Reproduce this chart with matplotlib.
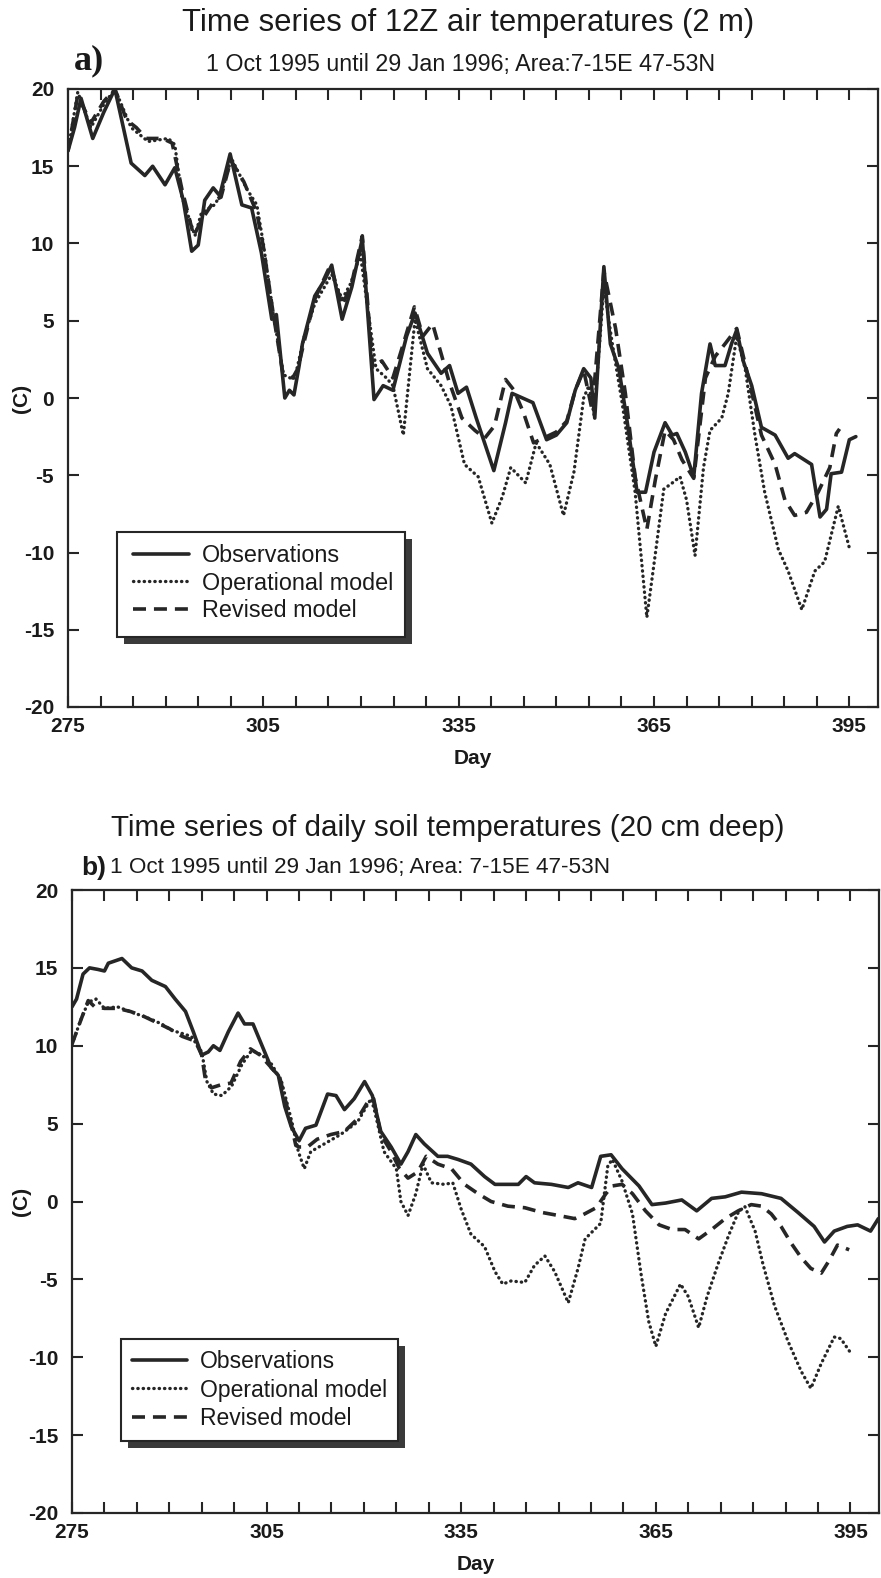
import matplotlib
matplotlib.use('Agg')
import matplotlib.pyplot as plt
from matplotlib.ticker import MultipleLocator, FuncFormatter
from matplotlib.patches import Rectangle
from matplotlib.lines import Line2D

# ---------------- data ----------------
a_obs_day = [275, 276, 277, 278.8, 280.5, 282.2, 284.7, 286.8, 288, 289.9, 291.4, 292.7, 294, 295, 296,
             297.3, 298.3, 299.9, 301.7, 303.2, 304.7, 306.3, 307, 308.3, 309, 309.7, 310.5, 311, 312.9,
             314.5, 315.5, 317.1, 318.6, 320.2, 322, 323.4, 324.9, 327, 328.3, 330.2, 332.3, 333.6, 334.9,
             336.2, 337.7, 340.4, 342.2, 343.2, 344.8, 346.4, 348.5, 350, 351.6, 352.9, 354.2, 355.3, 355.9,
             357.3, 358.3, 359.6, 360.9, 362.4, 363.7, 365, 366.7, 367.8, 368.5, 369.8, 371.1, 372.3, 373.6,
             374.4, 375.9, 376.9, 377.7, 378.7, 380, 381.5, 383.6, 385.6, 386.6, 389.2, 390.5, 391.5, 392.2,
             393.8, 395, 396]
a_obs_val = [16.0, 17.5, 19.4, 16.8, 18.5, 20.0, 15.2, 14.4, 15.0, 13.8, 14.9, 12.8, 9.5, 9.9, 12.8,
             13.6, 13.1, 15.8, 12.5, 12.3, 9.4, 5.1, 5.4, 0.0, 0.5, 0.2, 2.1, 3.5, 6.6,
             7.7, 8.6, 5.1, 7.2, 10.3, -0.1, 0.8, 0.5, 4.0, 5.5, 2.9, 1.6, 2.1, 0.3,
             0.7, -1.3, -4.7, -1.6, 0.3, 0.0, -0.3, -2.7, -2.4, -1.6, 0.5, 1.9, 1.3, -1.3,
             8.5, 3.5, 1.9, -1.6, -6.1, -6.1, -3.5, -1.6, -2.4, -2.3, -3.5, -5.1, 0.3, 3.5,
             2.1, 2.1, 3.5, 4.4, 2.4, 0.8, -1.9, -2.4, -3.9, -3.6, -4.3, -7.7, -7.2, -4.9,
             -4.8, -2.7, -2.5]

a_op_day = [275, 276.5, 278.5, 280.5, 282.2, 284.7, 287.3, 290.4, 291.4, 292.5, 294.5, 295.5, 297.5, 298.5,
            300.1, 302.5, 304, 305, 306.5, 308.1, 309.6, 310, 311.3, 312.9, 315.5, 317.1, 318.4, 319.9,
            322.3, 323.9, 324.9, 326.5, 328.3, 330.2, 332.3, 333.8, 335.9, 338, 340.1, 341.7, 343, 345.3,
            346.9, 349, 351.1, 352.7, 354.2, 355.0, 355.8, 357.3, 358.6, 360.1, 362.1, 363.9, 365.2, 366.5,
            367.8, 369, 370, 371.3, 372.6, 373.6, 375.4, 376.4, 377.7, 379, 380.5, 382, 384.1, 385.6,
            387.7, 389.7, 391.2, 393.3, 395]
a_op_val = [16.0, 19.8, 17.5, 19.0, 20.0, 17.5, 16.6, 16.8, 16.4, 13.0, 10.5, 12.0, 12.5, 13.2,
            15.5, 13.5, 12.5, 10.0, 5.5, 1.5, 1.2, 1.6, 4.0, 6.1, 8.0, 6.4, 7.4, 9.3,
            1.9, 1.3, 0.8, -2.4, 5.1, 1.9, 0.8, -0.5, -4.3, -5.1, -8.1, -6.4, -4.5, -5.5,
            -2.9, -4.3, -7.6, -4.8, 0.0, 0.8, -1.1, 7.2, 3.5, -0.3, -6.1, -14.2, -10.1, -5.9,
            -5.5, -5.1, -6.6, -10.2, -4.5, -2.1, -1.3, 0.3, 4.0, 1.9, -2.4, -6.1, -9.8, -11.2,
            -13.7, -11.2, -10.6, -7.0, -9.7]

a_rev_day = [275, 276.5, 278.5, 280.5, 282.2, 284, 285.5, 287, 289.5, 291, 292.5, 294.3, 295.5, 297.5,
             298.5, 300, 302, 304, 305, 306.5, 308, 309.5, 310.3, 311.3, 312.9, 315.3, 317.1, 318.5,
             320.2, 321.8, 323.2, 324.9, 326.5, 328.2, 329.5, 331, 333.5, 335.5, 337.5, 339, 340.5, 342.2,
             343.5, 345, 346.5, 348.5, 350, 351.6, 352.9, 354.2, 355.5, 357.3, 359.1, 360.6, 362.1, 363.9,
             365.2, 366.7, 368, 369.3, 371.1, 372.9, 374.4, 375.9, 377.7, 379.5, 381.5, 383.6, 385.1,
             386.6, 388.4, 390.2, 392, 393, 393.5]
a_rev_val = [16.0, 19.6, 17.8, 19.2, 20.0, 18.0, 17.5, 16.8, 16.8, 16.5, 13.5, 10.5, 11.5, 12.8,
             13.0, 15.4, 14.0, 12.0, 9.8, 5.5, 1.6, 1.3, 1.9, 3.7, 6.4, 8.6, 6.0, 7.3,
             10.5, 2.0, 2.4, 1.3, 3.5, 5.9, 4.0, 4.8, 1.1, -1.3, -2.1, -2.6, -1.8, 1.2,
             0.5, -1.0, -2.9, -2.5, -2.2, -1.5, 0.5, 1.8, -0.8, 8.2, 4.5, 0.3, -5.1, -8.5,
             -5.3, -2.1, -2.7, -4.0, -5.2, 1.3, 2.7, 3.5, 4.5, 1.3, -2.4, -4.3, -6.6,
             -7.6, -7.4, -6.1, -4.5, -2.3, -2.0]

b_obs_day = [275, 275.7, 276.7, 277.7, 279, 280, 280.6, 282.7, 284.2, 285.8, 287.3, 289.4, 290.9, 292.5,
             293.7, 295, 296, 296.8, 297.8, 299.1, 300.6, 301.6, 302.9, 304.2, 305.7, 306.8, 307.8, 308.8,
             310, 311, 312.6, 314.4, 315.7, 317, 318.5, 320.1, 321.3, 322.6, 324.2, 325.7, 326.8, 328,
             329.3, 331.4, 332.9, 334.5, 336.5, 338.6, 340.2, 343.8, 345, 346.3, 348.9, 351.5, 353, 355.1,
             356.5, 358.1, 359.8, 362.4, 364.4, 366.5, 369, 371.3, 373.6, 375.7, 378.2, 381.3, 384.3,
             386.9, 389.4, 391, 392.5, 394.5, 396.1, 398.1, 399.3]
b_obs_val = [12.5, 13.0, 14.6, 15.0, 14.9, 14.8, 15.3, 15.6, 15.0, 14.8, 14.2, 13.8, 13.0, 12.2,
             10.9, 9.4, 9.6, 10.0, 9.7, 10.9, 12.1, 11.4, 11.4, 10.1, 8.6, 8.1, 6.1, 4.8,
             3.9, 4.7, 4.9, 6.9, 6.8, 5.9, 6.6, 7.7, 6.8, 4.5, 3.5, 2.4, 3.2, 4.3,
             3.7, 2.9, 2.9, 2.7, 2.4, 1.6, 1.1, 1.1, 1.6, 1.2, 1.1, 0.9, 1.2, 0.9,
             2.9, 3.0, 2.1, 1.0, -0.2, -0.1, 0.1, -0.6, 0.2, 0.3, 0.6, 0.5, 0.2,
             -0.7, -1.6, -2.6, -1.9, -1.6, -1.5, -1.9, -1.1]

b_op_day = [275, 276.4, 277.5, 278.7, 280, 282, 284.6, 287.2, 288.8, 290.3, 291.9, 293.4, 295, 295.8,
            296.8, 298.1, 299.6, 301.2, 302.7, 304.3, 305.8, 307.3, 308.9, 309.9, 310.8, 311.8, 313.9,
            316.4, 319, 321.1, 321.6, 323.1, 325, 325.7, 326.8, 328, 329.1, 330.4, 332.4, 333.7, 335,
            336.5, 338.6, 340.2, 341.4, 342.7, 344.8, 346.3, 347.9, 349.4, 351.5, 353, 354.1, 355.3,
            356.5, 357.6, 358.3, 359.8, 361.4, 362.7, 363.9, 365, 366.5, 368.8, 370, 371.6, 372.9,
            374.6, 376.2, 377.7, 378.7, 380.3, 381.5, 383.3, 385.4, 387.4, 388.9, 390.5, 392.5, 393.5, 395]
b_op_val = [10.1, 11.7, 12.8, 13.0, 12.4, 12.5, 12.1, 11.7, 11.4, 11.0, 10.8, 10.6, 9.6, 7.7,
            6.9, 6.8, 7.4, 8.8, 9.7, 9.4, 8.8, 7.7, 5.1, 3.2, 2.1, 3.2, 3.7,
            4.3, 5.1, 6.6, 5.9, 3.2, 2.1, 0.0, -0.9, 0.5, 2.4, 1.2, 1.1, 1.2, -0.5,
            -2.1, -2.9, -4.5, -5.3, -5.1, -5.2, -4.1, -3.5, -4.5, -6.5, -4.3, -2.4, -1.9,
            -1.4, 2.3, 2.7, 1.3, -0.8, -4.6, -7.7, -9.3, -7.2, -5.3, -6.1, -8.1, -6.1,
            -4.0, -2.2, -0.7, -0.3, -1.9, -4.0, -6.7, -9.0, -10.9, -12.0, -10.4, -8.7, -8.8, -9.7]

b_rev_day = [275, 276.5, 277.5, 278.5, 280, 282, 284, 286, 288, 290, 292, 294, 295, 295.5, 296.5, 298,
             299.5, 301, 302.5, 304, 305.5, 307, 308.5, 309.5, 310, 311.3, 312.8, 314.9, 317, 319,
             320.6, 321.5, 322.6, 324.2, 325.5, 326.8, 328.3, 329.6, 331.4, 333.5, 335.5, 337.6, 339.6,
             342.2, 344.8, 347.4, 350, 352.5, 354, 355.8, 357.3, 358.3, 359.8, 361.4, 363.4, 365.5,
             367.5, 369.5, 371.6, 373.6, 375.7, 377.7, 379.7, 381.3, 382.8, 384.3, 385.9, 387.4, 388.9,
             390.5, 391.7, 393, 394.8]
b_rev_val = [10.1, 11.8, 12.9, 12.5, 12.4, 12.4, 12.2, 11.9, 11.5, 11.1, 10.6, 10.3, 9.4, 8.0, 7.3, 7.5,
             7.6, 9.0, 9.8, 9.4, 8.7, 8.0, 5.5, 3.6, 3.5, 3.5, 4.0, 4.3, 4.5, 5.3,
             6.4, 6.6, 4.3, 3.2, 2.1, 1.5, 1.9, 2.9, 2.4, 2.1, 1.1, 0.5, 0.0,
             -0.3, -0.4, -0.7, -0.9, -1.1, -0.8, -0.4, 0.5, 1.0, 1.1, 0.5, -0.6, -1.5,
             -1.8, -1.8, -2.4, -1.8, -1.1, -0.6, -0.2, -0.3, -0.8, -1.6, -2.7, -3.6, -4.3,
             -4.6, -3.8, -2.8, -3.1]

series_labels = ['Observations', 'Operational model', 'Revised model']
x_tick_labels = [275, 305, 335, 365, 395]

# ---------------- styles ----------------
INK = '#262626'
obs_kw = dict(color=INK, lw=2.6, solid_joinstyle='round', solid_capstyle='round')
op_kw = dict(color=INK, lw=2.4, linestyle=(0, (0.1, 1.5)), dash_capstyle='round')
rev_kw = dict(color=INK, lw=2.6, linestyle=(0, (3.6, 2.2)), dash_capstyle='butt')

W, H = 881, 1578
fig = plt.figure(figsize=(W / 100, H / 100), dpi=100)
fig.patch.set_facecolor('white')

NARROW = ['Liberation Sans Narrow', 'Liberation Sans', 'DejaVu Sans']
SANS = ['Liberation Sans', 'DejaVu Sans']


def fx(px):
    return px / W


def fy(py):
    return 1 - py / H


def fit_width(t, target_px):
    fig.canvas.draw()
    r = fig.canvas.get_renderer()
    w = t.get_window_extent(r).width
    t.set_fontsize(t.get_fontsize() * target_px / w)


def make_axes(l, r, t, b):
    ax = fig.add_axes([fx(l), fy(b), fx(r - l), (b - t) / H])
    ax.set_xlim(275, 399.4)
    ax.set_ylim(-20, 20)
    ax.xaxis.set_major_locator(MultipleLocator(5))
    ax.yaxis.set_major_locator(MultipleLocator(5))
    ax.xaxis.set_major_formatter(FuncFormatter(
        lambda v, p: '%d' % round(v) if round(v) in x_tick_labels else ''))
    ax.yaxis.set_major_formatter(FuncFormatter(lambda v, p: '%d' % round(v)))
    ax.tick_params(axis='both', direction='in', length=8, width=1.5, color=INK,
                   top=True, right=True, labelsize=15, labelcolor='#1a1a1a')
    ax.tick_params(axis='x', pad=7)
    ax.tick_params(axis='y', pad=10)
    for lab in ax.get_xticklabels() + ax.get_yticklabels():
        lab.set_fontfamily(SANS)
        lab.set_fontweight('bold')
    for s in ax.spines.values():
        s.set_linewidth(1.6)
        s.set_color(INK)
    return ax


def plot_panel(ax, od, ov, pd_, pv, rd, rv):
    ax.plot(od, ov, zorder=3, **obs_kw)
    ax.plot(rd, rv, zorder=3, **rev_kw)
    ax.plot(pd_, pv, zorder=4, **op_kw)


def add_legend(ax, box, anchor, spacing, size):
    x0, y0, x1, y1 = box
    bb = ax.get_position()
    dx = 7 / (bb.width * W)
    dy = 7 / (bb.height * H)
    ax.add_patch(Rectangle((x0 + dx, y0 - dy), x1 - x0, y1 - y0, transform=ax.transAxes,
                           facecolor='#3a3a3a', edgecolor='none', zorder=8))
    ax.add_patch(Rectangle((x0, y0), x1 - x0, y1 - y0, transform=ax.transAxes,
                           facecolor='white', edgecolor=INK, lw=1.5, zorder=9))
    handles = [Line2D([], [], **obs_kw), Line2D([], [], **op_kw), Line2D([], [], **rev_kw)]
    leg = ax.legend(handles, series_labels, loc='upper left', bbox_to_anchor=anchor,
                    frameon=False, borderpad=0, borderaxespad=0, handlelength=2.4,
                    handletextpad=0.55, labelspacing=spacing,
                    prop={'family': SANS, 'size': size})
    for t in leg.get_texts():
        t.set_color('#1a1a1a')
    leg.set_zorder(10)


# ---------------- panel a ----------------
axa = make_axes(68, 878, 89, 707)
plot_panel(axa, a_obs_day, a_obs_val, a_op_day, a_op_val, a_rev_day, a_rev_val)
add_legend(axa, (0.060, 0.113, 0.416, 0.2835), (0.0803, 0.264), 0.2, 16.8)

# ---------------- panel b ----------------
axb = make_axes(72, 879, 890, 1513)
plot_panel(axb, b_obs_day, b_obs_val, b_op_day, b_op_val, b_rev_day, b_rev_val)
add_legend(axb, (0.0605, 0.1156, 0.404, 0.280), (0.0743, 0.262), 0.25, 16.5)

# axis labels
for ax, cy, dayy in [(axa, 398, 759), (axb, 1201.5, 1565)]:
    bb = ax.get_position()
    fig.text(bb.x0 + bb.width / 2, fy(dayy), 'Day', ha='center', va='center',
             fontsize=15, fontweight='bold', family=SANS, color='#1a1a1a')
    fig.text(fx(22), fy(cy), '(C)', ha='center', va='center', rotation=90,
             fontsize=15, fontweight='bold', family=SANS, color='#1a1a1a')

# titles
t1 = fig.text(fx(468), fy(23), 'Time series of 12Z air temperatures (2 m)', ha='center', va='center',
              fontsize=22, family=NARROW, color='#1a1a1a')
t2 = fig.text(fx(461), fy(64), '1 Oct 1995 until 29 Jan 1996; Area:7-15E 47-53N', ha='center',
              va='center', fontsize=14, family=NARROW, color='#1a1a1a')
fig.text(fx(89), fy(61), 'a)', ha='center', va='center', fontsize=26, fontweight='bold',
         family=['Liberation Serif', 'DejaVu Serif'], color='#1a1a1a')

t3 = fig.text(fx(448), fy(828), 'Time series of daily soil temperatures (20 cm deep)', ha='center',
              va='center', fontsize=22, family=NARROW, color='#1a1a1a')
fig.text(fx(94), fy(868), 'b)', ha='center', va='center', fontsize=19, fontweight='bold',
         family=SANS, color='#1a1a1a')
t4 = fig.text(fx(110), fy(868), '1 Oct 1995 until 29 Jan 1996; Area: 7-15E 47-53N', ha='left',
              va='center', fontsize=14, family=NARROW, color='#1a1a1a')

fit_width(t1, 570)
fit_width(t2, 511)
fit_width(t3, 670)
fit_width(t4, 500)

fig.savefig('out.png', dpi=100, facecolor='white')
